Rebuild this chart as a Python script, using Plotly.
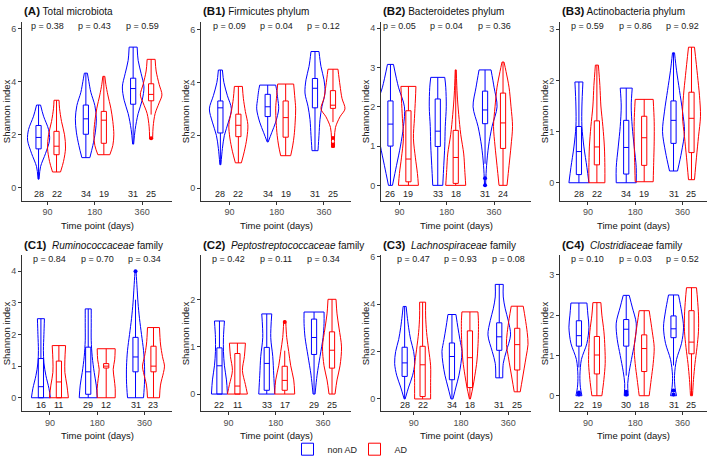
"""
Shannon index by time point - violin + box panels (non AD vs AD)
"""
import plotly.graph_objects as go

# ── Data ───────────────────────────────────────────────────────────────────
# group order in every list: 90 nonAD, 90 AD, 180 nonAD, 180 AD, 360 nonAD, 360 AD
PANELS = ["A", "B1", "B2", "B3", "C1", "C2", "C3", "C4"]
TIME_LABELS = ["90", "180", "360"]
GROUPS = ["non AD", "AD"]

TITLES = {
    "A": "Total microbiota",
    "B1": "Firmicutes phylum",
    "B2": "Bacteroidetes phylum",
    "B3": "Actinobacteria phylum",
    "C1": "<i>Ruminococcaceae</i> family",
    "C2": "<i>Peptostreptococcaceae</i> family",
    "C3": "<i>Lachnospiraceae</i> family",
    "C4": "<i>Clostridiaceae</i> family",
}

P_VALUES = {
    "A": ["0.38", "0.43", "0.59"],
    "B1": ["0.09", "0.04", "0.12"],
    "B2": ["0.05", "0.04", "0.36"],
    "B3": ["0.59", "0.86", "0.92"],
    "C1": ["0.84", "0.70", "0.34"],
    "C2": ["0.42", "0.11", "0.34"],
    "C3": ["0.47", "0.93", "0.08"],
    "C4": ["0.10", "0.03", "0.52"],
}

N_COUNTS = {
    "A": [28, 22, 34, 19, 31, 25],
    "B1": [28, 22, 34, 19, 31, 25],
    "B2": [26, 19, 33, 18, 31, 24],
    "B3": [28, 22, 34, 19, 31, 25],
    "C1": [16, 11, 29, 12, 31, 23],
    "C2": [22, 11, 33, 17, 29, 25],
    "C3": [28, 22, 34, 18, 31, 25],
    "C4": [22, 19, 30, 18, 31, 25],
}

Q1 = {
    "A": [1.47, 1.25, 2.02, 1.68, 3.15, 3.28],
    "B1": [2.09, 1.95, 2.71, 1.93, 3.04, 3.02],
    "B2": [1.00, 0.09, 0.99, 0.05, 1.57, 0.94],
    "B3": [0.16, 0.35, 0.17, 0.34, 0.77, 0.59],
    "C1": [0.00, 0.00, 0.11, 0.94, 0.82, 0.82],
    "C2": [0.00, 0.00, 0.08, 0.08, 0.84, 0.55],
    "C3": [0.95, 0.10, 0.81, 0.48, 2.05, 1.22],
    "C4": [1.23, 0.54, 1.23, 0.60, 1.44, 1.04],
}
MEDIAN = {
    "A": [1.90, 1.57, 2.60, 2.55, 3.74, 3.52],
    "B1": [3.04, 2.38, 3.08, 2.67, 3.78, 3.14],
    "B2": [1.56, 0.67, 1.38, 0.71, 1.92, 1.59],
    "B3": [0.61, 0.70, 0.69, 0.88, 1.22, 1.26],
    "C1": [0.35, 0.50, 0.82, 1.00, 1.29, 1.00],
    "C2": [0.60, 0.17, 0.65, 0.29, 1.20, 0.93],
    "C3": [1.52, 1.44, 1.79, 1.74, 2.62, 2.29],
    "C4": [1.49, 1.01, 1.65, 1.17, 1.66, 1.33],
}
Q3 = {
    "A": [2.35, 2.13, 3.12, 2.88, 4.13, 3.92],
    "B1": [3.30, 2.80, 3.55, 3.30, 4.15, 3.69],
    "B2": [2.15, 1.90, 2.20, 1.40, 2.40, 2.35],
    "B3": [1.10, 1.21, 1.22, 1.30, 1.60, 1.77],
    "C1": [1.24, 1.16, 1.60, 1.08, 1.91, 1.63],
    "C2": [0.98, 0.86, 0.99, 0.59, 1.59, 1.32],
    "C3": [2.18, 2.22, 2.36, 2.87, 3.21, 2.98],
    "C4": [1.86, 1.47, 1.89, 1.51, 1.98, 2.11],
}
WHISK_LO = {
    "A": [0.33, 0.60, 1.14, 1.25, 1.65, 2.76],
    "B1": [0.89, 0.96, 1.76, 1.23, 1.42, 2.50],
    "B2": [0.00, 0.00, 0.00, 0.00, 0.55, 0.00],
    "B3": [0.00, 0.00, 0.00, 0.02, 0.23, 0.06],
    "C1": [0.00, 0.00, 0.00, 0.00, 0.00, 0.00],
    "C2": [0.00, 0.00, 0.00, 0.00, 0.00, 0.00],
    "C3": [0.00, 0.00, 0.00, 0.00, 0.89, 0.30],
    "C4": [0.70, 0.00, 0.50, 0.00, 0.75, 0.00],
}
WHISK_HI = {
    "A": [3.12, 3.30, 4.32, 4.20, 5.30, 4.84],
    "B1": [4.47, 3.85, 3.90, 3.94, 5.17, 4.50],
    "B2": [3.08, 2.52, 2.75, 2.94, 2.94, 3.14],
    "B3": [1.97, 2.30, 1.85, 1.63, 2.54, 2.65],
    "C1": [2.50, 1.65, 2.81, 1.55, 3.10, 2.22],
    "C2": [1.55, 1.08, 1.70, 0.92, 1.74, 2.01],
    "C3": [3.90, 4.08, 3.56, 3.67, 4.83, 3.91],
    "C4": [2.30, 2.31, 2.49, 2.11, 2.50, 2.68],
}
OUTLIERS = {
    "A": [[], [], [], [], [], [1.87]],
    "B1": [[], [], [], [], [], [1.60, 1.65, 1.90]],
    "B2": [[], [], [], [], [0.00, 0.18], []],
    "B3": [[], [], [], [], [], []],
    "C1": [[], [], [], [], [4.00], []],
    "C2": [[], [], [], [1.53], [], []],
    "C3": [[], [], [], [], [], []],
    "C4": [[0.03, 0.08], [], [0.03, 0.10], [], [0.03, 0.13], []],
}

# violin outlines: Shannon levels and the relative half-width of the density there
VIOLIN_Y = {
    "A": [[0.33, 0.8, 1.3, 1.8, 2.2, 2.7, 3.12], [0.6, 1.0, 1.5, 2.0, 2.5, 3.0, 3.3],
          [1.14, 1.6, 2.1, 2.6, 3.1, 3.6, 4.0, 4.32], [1.25, 1.6, 2.0, 2.5, 3.0, 3.5, 3.9, 4.2],
          [1.65, 2.2, 2.8, 3.3, 3.8, 4.3, 4.8, 5.3], [1.85, 2.3, 2.8, 3.2, 3.5, 3.9, 4.4, 4.84]],
    "B1": [[0.89, 1.5, 2.0, 2.5, 3.0, 3.5, 4.0, 4.47], [0.96, 1.4, 1.9, 2.4, 2.9, 3.4, 3.85],
           [1.75, 2.1, 2.5, 3.0, 3.4, 3.7, 3.9], [1.23, 1.6, 2.0, 2.5, 3.0, 3.5, 3.94],
           [1.42, 2.0, 2.6, 3.1, 3.6, 4.1, 4.6, 5.17], [1.55, 1.9, 2.3, 2.7, 3.0, 3.4, 3.9, 4.5]],
    "B2": [[0, 0.5, 1.0, 1.5, 2.0, 2.5, 3.08], [0, 0.3, 0.7, 1.2, 1.7, 2.2, 2.52],
           [0, 0.5, 1.0, 1.5, 2.0, 2.5, 2.75], [0, 0.4, 0.8, 1.3, 1.8, 2.3, 2.94],
           [0, 0.5, 1.0, 1.5, 2.0, 2.5, 2.94], [0, 0.5, 1.0, 1.5, 2.0, 2.5, 2.9, 3.14]],
    "B3": [[0, 0.3, 0.7, 1.1, 1.5, 1.97], [0, 0.3, 0.7, 1.1, 1.5, 1.9, 2.3],
           [0, 0.3, 0.7, 1.1, 1.5, 1.85], [0.02, 0.4, 0.8, 1.2, 1.63],
           [0.23, 0.6, 1.0, 1.4, 1.8, 2.2, 2.54], [0.06, 0.5, 0.9, 1.3, 1.7, 2.1, 2.65]],
    "C1": [[0, 0.3, 0.7, 1.1, 1.5, 2.0, 2.5], [0, 0.4, 0.8, 1.2, 1.65],
           [0, 0.4, 0.8, 1.3, 1.8, 2.3, 2.81], [0, 0.3, 0.6, 0.9, 1.2, 1.55],
           [0, 0.5, 1.0, 1.5, 2.0, 2.5, 3.0, 3.5, 4.0], [0, 0.4, 0.8, 1.0, 1.3, 1.7, 2.22]],
    "C2": [[0, 0.3, 0.6, 0.9, 1.2, 1.55], [0, 0.2, 0.5, 0.8, 1.08],
           [0, 0.4, 0.8, 1.2, 1.7], [0, 0.3, 0.6, 0.9, 1.2, 1.55],
           [0, 0.4, 0.8, 1.2, 1.5, 1.74], [0, 0.3, 0.6, 1.0, 1.4, 1.7, 2.01]],
    "C3": [[0, 0.5, 1.0, 1.5, 2.0, 2.5, 3.0, 3.5, 3.9], [0, 0.7, 1.4, 2.1, 2.8, 3.5, 4.08],
           [0, 0.5, 1.0, 1.5, 2.0, 2.5, 3.0, 3.56], [0, 0.5, 1.0, 1.6, 2.2, 2.8, 3.3, 3.67],
           [0.89, 1.5, 2.0, 2.7, 3.3, 3.8, 4.3, 4.83], [0.3, 0.8, 1.3, 1.8, 2.3, 2.8, 3.4, 3.91]],
    "C4": [[0, 0.2, 0.5, 0.9, 1.3, 1.7, 2.0, 2.3], [0, 0.4, 0.8, 1.2, 1.6, 2.0, 2.31],
           [0, 0.3, 0.6, 1.0, 1.4, 1.8, 2.2, 2.49], [0, 0.4, 0.8, 1.2, 1.6, 2.11],
           [0, 0.2, 0.5, 0.9, 1.3, 1.7, 2.1, 2.5], [0, 0.4, 0.8, 1.2, 1.6, 2.0, 2.4, 2.68]],
}
VIOLIN_W = {
    "A": [[0.5, 2, 7, 11, 10, 5, 2], [4, 7, 9, 8, 5, 3, 2.5],
          [4, 7, 9.5, 10.5, 9, 5, 3, 1.5], [6, 9, 10, 9, 7, 4, 2, 1],
          [0.5, 2, 5, 9, 10.8, 8, 5, 4], [1.5, 2, 4, 8, 10.8, 8, 5, 4]],
    "B1": [[0.5, 2, 4, 8, 11, 7, 3.5, 2], [3, 6, 8.5, 9.5, 7, 5, 4],
           [0.5, 4, 8, 11, 10, 9, 8], [5, 7, 8.5, 9.5, 10, 9, 8],
           [3, 4, 5, 7, 10, 9, 6, 4], [1.5, 1.5, 2.5, 7, 12, 9, 7, 5]],
    "B2": [[2, 6, 10, 13, 14, 8, 3], [10, 9, 7, 5, 6, 7, 7.5],
           [5, 6, 7, 7.5, 8.5, 8, 7], [10, 9, 8, 5, 3, 1.5, 0.5],
           [0.5, 1.5, 3.5, 7, 12, 9, 6], [4, 6, 8, 9.5, 8, 6, 3, 1]],
    "B3": [[10, 8, 5, 3, 3, 4], [8, 8, 7.5, 6, 4, 3, 1.5],
           [10, 10, 8, 6, 5, 6], [9, 9.5, 10, 10, 9],
           [4, 8, 11, 9, 6, 3, 1], [3, 5, 7, 9, 8, 6, 3]],
    "C1": [[9.5, 8, 5, 3, 2.5, 3, 3.5], [9.5, 8, 6, 6, 6.7],
           [9, 8, 6, 4, 3, 3, 3], [9, 9, 8, 7, 8.5, 9],
           [8, 9, 9, 8, 6, 4, 2.5, 1.5, 0.5], [6, 7, 10, 11, 9, 7, 6]],
    "C2": [[8, 7, 5, 4, 4, 5], [10, 8, 5, 7, 8],
           [8, 7, 6, 4, 5], [10, 9, 6, 4, 2, 1],
           [1, 3, 6, 9, 10, 10], [3, 5, 8, 9.5, 7, 5, 4]],
    "C3": [[0.5, 4, 8, 10, 9, 6, 4, 2.5, 1.5], [8, 8, 8, 6, 4, 3, 3],
           [1, 4, 7, 9, 10, 8, 6, 4], [0.5, 3, 5, 7, 8, 8.5, 8.5, 8],
           [3.5, 4, 7, 11.3, 9, 6, 4, 4], [3, 5, 7, 9, 10.8, 10, 8, 6]],
    "C4": [[3, 1.5, 1, 2.5, 8, 10, 9, 8], [5, 7, 8.3, 8, 7, 5, 4],
           [2, 1.5, 3, 6, 9, 10, 6, 3], [5, 7, 9, 10, 8, 5],
           [3, 1.5, 1, 3, 8, 10, 8, 5], [1, 2, 3.5, 5.5, 7, 7, 6, 5]],
}

Y_RANGE = {
    "A": [-0.48, 6.26], "B1": [-0.47, 6.30], "B2": [-0.39, 4.17], "B3": [-0.35, 3.15],
    "C1": [-0.42, 4.50], "C2": [-0.36, 2.94], "C3": [-0.51, 6.05], "C4": [-0.38, 3.48],
}
Y_TICKS = {
    "A": [0, 2, 4, 6], "B1": [0, 2, 4, 6], "B2": [0, 1, 2, 3, 4], "B3": [0, 1, 2, 3],
    "C1": [0, 1, 2, 3, 4], "C2": [0, 1, 2], "C3": [0, 2, 4, 6], "C4": [0, 1, 2, 3],
}
X_START = {"A": 0.46, "B1": 0.40, "B2": 0.61, "B3": 0.41,
           "C1": 0.41, "C2": 0.42, "C3": 0.31, "C4": 0.41}

# ── Geometry / style ──────────────────────────────────────────────────────
W, H = 709, 464
PANEL_LEFT = [22, 201, 381, 560]
PANEL_W = 150
ROWS = [(18, 201), (257, 416)]
PX_PER_CAT = 47.3
DODGE = 0.19
COLORS = ["#0000FF", "#FF0000"]
FONT = "Liberation Sans, Arial, sans-serif"
TXT = "#222222"

fig = go.Figure()
annotations = []
layout_axes = {}

for k, pid in enumerate(PANELS):
    row, col = divmod(k, 4)
    top, bot = ROWS[row]
    left = PANEL_LEFT[col]
    right = min(left + PANEL_W, W - 2)
    idx = "" if k == 0 else str(k + 1)
    xa, ya = "x" + idx, "y" + idx
    x0 = X_START[pid]

    layout_axes["xaxis" + idx] = dict(
        domain=[left / W, right / W], anchor=ya,
        range=[x0, x0 + (right - left) / PX_PER_CAT],
        tickvals=[1, 2, 3], ticktext=TIME_LABELS,
    )
    layout_axes["yaxis" + idx] = dict(
        domain=[1 - bot / H, 1 - top / H], anchor=xa,
        range=Y_RANGE[pid], tickvals=Y_TICKS[pid],
    )

    for g in range(6):
        t, s = divmod(g, 2)
        c = t + 1 + (DODGE if s else -DODGE)
        color = COLORS[s]
        ys, ws = VIOLIN_Y[pid][g], VIOLIN_W[pid][g]
        xr = [c + w / PX_PER_CAT for w in ws]
        xl = [c - w / PX_PER_CAT for w in ws]
        vx = xr + [None] + xl + [None] + [xr[-1], xl[-1]] + [None] + [xr[0], xl[0]]
        vy = ys + [None] + ys + [None] + [ys[-1], ys[-1]] + [None] + [ys[0], ys[0]]
        fig.add_trace(go.Scatter(
            x=vx, y=vy, xaxis=xa, yaxis=ya, mode="lines",
            line=dict(color=color, width=1, shape="spline", smoothing=0.9),
            connectgaps=False, showlegend=False, hoverinfo="skip",
        ))
        fig.add_trace(go.Box(
            x=[c], q1=[Q1[pid][g]], median=[MEDIAN[pid][g]], q3=[Q3[pid][g]],
            lowerfence=[WHISK_LO[pid][g]], upperfence=[WHISK_HI[pid][g]],
            xaxis=xa, yaxis=ya, width=0.11, whiskerwidth=0,
            line=dict(color=color, width=1), fillcolor="white",
            boxpoints=False, name=GROUPS[s],
            showlegend=(k == 0 and t == 0), legendgroup=GROUPS[s],
        ))
        if OUTLIERS[pid][g]:
            fig.add_trace(go.Scatter(
                x=[c] * len(OUTLIERS[pid][g]), y=OUTLIERS[pid][g],
                xaxis=xa, yaxis=ya, mode="markers",
                marker=dict(color=color, size=4), showlegend=False,
            ))
        # n per group
        annotations.append(dict(
            x=c, y=0.04, xref=xa, yref=ya + " domain", text=str(N_COUNTS[pid][g]),
            showarrow=False, font=dict(size=9, color=TXT), yanchor="middle",
        ))

    for t in range(3):
        annotations.append(dict(
            x=t + 1, y=0.975, xref=xa, yref=ya + " domain", text="p = " + P_VALUES[pid][t],
            showarrow=False, font=dict(size=9, color=TXT), yanchor="middle",
        ))

    # panel title, axis titles
    annotations.append(dict(
        x=left / W, y=1 - (top - 11) / H, xref="paper", yref="paper",
        xanchor="left", yanchor="middle", align="left", showarrow=False,
        text=f"<span style='font-size:11.5px'><b>({pid})</b></span> "
             + ("&nbsp;" if row else "") + TITLES[pid],
        font=dict(size=10, color="#111111"),
    ))
    annotations.append(dict(
        x=(left - 16) / W, y=1 - (top + bot) / 2 / H, xref="paper", yref="paper",
        textangle=-90, xanchor="center", yanchor="middle", showarrow=False,
        text="Shannon index", font=dict(size=9.5, color="#111111"),
    ))
    annotations.append(dict(
        x=(left + right) / 2 / W, y=1 - (bot + 25) / H, xref="paper", yref="paper",
        xanchor="center", yanchor="middle", showarrow=False,
        text="Time point (days)", font=dict(size=9.5, color="#111111"),
    ))

fig.update_layout(
    width=W, height=H, autosize=False,
    margin=dict(l=0, r=0, t=0, b=0),
    paper_bgcolor="white", plot_bgcolor="white",
    font=dict(family=FONT, size=9, color="#4D4D4D"),
    boxmode="overlay",
    annotations=annotations,
    legend=dict(orientation="h", x=0.5, xanchor="center", y=1 - 455 / H, yanchor="middle",
                font=dict(size=9, color="#222222"), itemwidth=30,
                entrywidth=22, entrywidthmode="pixels"),
    **layout_axes,
)
fig.update_xaxes(showline=True, linecolor="#333333", linewidth=1, ticks="outside",
                 ticklen=3, tickcolor="#333333", showgrid=False, zeroline=False,
                 tickfont=dict(size=9, color="#4D4D4D"))
fig.update_yaxes(showline=True, linecolor="#333333", linewidth=1, ticks="outside",
                 ticklen=3, tickcolor="#333333", showgrid=False, zeroline=False,
                 tickfont=dict(size=9, color="#4D4D4D"))

# page body has a default margin; remove it so the figure sits at the window origin
fig.write_html("out.html", config={"displayModeBar": False},
               post_script="document.body.style.margin='0';")
